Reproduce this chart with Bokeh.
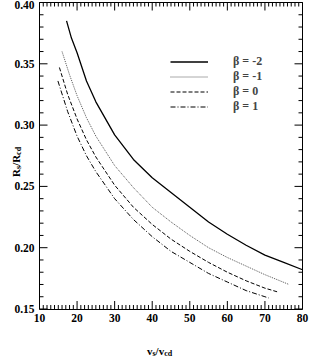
from bokeh.plotting import figure
from bokeh.models import (Range1d, LinearAxis, SingleIntervalTicker, PrintfTickFormatter,
                          Legend, LegendItem, Label)
from bokeh.embed import file_html
from bokeh.resources import INLINE
from math import pi

# ---- data ----
v_m2 = [17.2, 18.5, 20, 22.5, 25, 30, 35, 40, 45, 50, 55, 60, 65, 70, 75, 80]
R_m2 = [0.385, 0.371, 0.359, 0.336, 0.319, 0.292, 0.272, 0.257, 0.245, 0.233, 0.221, 0.211, 0.202, 0.194, 0.188, 0.182]

v_m1 = [16.0, 18, 20, 22.5, 25, 30, 35, 40, 45, 50, 55, 60, 65, 70, 76.4]
R_m1 = [0.360, 0.341, 0.324, 0.306, 0.291, 0.267, 0.249, 0.233, 0.221, 0.210, 0.200, 0.192, 0.185, 0.178, 0.170]

v_0 = [15.3, 17.5, 20, 22.5, 25, 30, 35, 40, 45, 50, 55, 60, 65, 70, 73.3]
R_0 = [0.347, 0.325, 0.305, 0.288, 0.274, 0.251, 0.233, 0.219, 0.207, 0.197, 0.188, 0.180, 0.173, 0.167, 0.164]

v_p1 = [14.9, 17.5, 20, 22.5, 25, 30, 35, 40, 45, 50, 55, 60, 65, 70, 71.0]
R_p1 = [0.336, 0.311, 0.291, 0.275, 0.262, 0.240, 0.223, 0.209, 0.197, 0.188, 0.179, 0.172, 0.165, 0.160, 0.159]

labels = ["\u03b2 = -2", "\u03b2 = -1", "\u03b2 = 0", "\u03b2 = 1"]

x_lo, x_hi = 10, 80
y_lo, y_hi = 0.15, 0.40
x_ticks_interval = 10
y_ticks_interval = 0.05
x_ticks_all = list(range(10, 81))
y_ticks_all = [round(0.15 + 0.01 * k, 2) for k in range(0, 26)]

FONT = "Liberation Serif"

# canvas geometry: the data box runs from px 39..302 (x) and 2..308.5 (y)
W, H = 309, 356
BX0, BX1, BY0, BY1 = 39.0, 302.0, 2.0, 308.5
sx = (BX1 - BX0) / (x_hi - x_lo)
sy = (BY1 - BY0) / (y_hi - y_lo)
x_range = Range1d(x_lo - BX0 / sx, x_hi + (W - BX1) / sx)
y_range = Range1d(y_lo - (H - BY1) / sy, y_hi + BY0 / sy)

p = figure(width=W, height=H, output_backend="svg", toolbar_location=None,
           x_range=x_range, y_range=y_range,
           min_border=0, min_border_left=0, min_border_right=0,
           min_border_top=0, min_border_bottom=0,
           x_axis_location=None, y_axis_location=None)
p.grid.visible = False
p.outline_line_color = None
p.background_fill_color = None
p.border_fill_color = None


def make_axis(loc, bounds, show_labels, interval, nminor, fmt):
    ax = LinearAxis(fixed_location=loc, bounds=bounds)
    ax.ticker = SingleIntervalTicker(interval=interval, num_minor_ticks=nminor)
    ax.formatter = PrintfTickFormatter(format=fmt)
    ax.major_tick_in = 0
    ax.major_tick_out = 0
    ax.minor_tick_in = 0
    ax.minor_tick_out = 0
    ax.axis_line_color = "black"
    ax.axis_line_width = 1
    ax.major_label_text_font = FONT
    ax.major_label_text_font_style = "bold"
    ax.major_label_text_color = "black"
    if show_labels:
        ax.major_label_text_font_size = "11.5px"
        ax.major_label_standoff = 5
    else:
        ax.major_label_text_font_size = "0px"
        ax.major_label_standoff = 0
    return ax


p.add_layout(make_axis(y_lo, (x_lo, x_hi), True, x_ticks_interval, 10, "%d"), "below")
p.add_layout(make_axis(y_hi, (x_lo, x_hi), False, x_ticks_interval, 10, "%d"), "above")
p.add_layout(make_axis(x_lo, (y_lo, y_hi), True, y_ticks_interval, 5, "%.2f"), "left")
p.add_layout(make_axis(x_hi, (y_lo, y_hi), False, y_ticks_interval, 5, "%.2f"), "right")

# inward tick marks (8 px major, 4 px minor) as segments through the scales
MAJ, MIN = 8.0, 4.0
xlen = [(MAJ if v % x_ticks_interval == 0 else MIN) / sy for v in x_ticks_all]
p.segment(x0=x_ticks_all, y0=[y_lo] * len(x_ticks_all), x1=x_ticks_all,
          y1=[y_lo + d for d in xlen], line_color="black", line_width=1)
p.segment(x0=x_ticks_all, y0=[y_hi] * len(x_ticks_all), x1=x_ticks_all,
          y1=[y_hi - d for d in xlen], line_color="black", line_width=1)
ylen = [(MAJ if round(v * 100) % 5 == 0 else MIN) / sx for v in y_ticks_all]
p.segment(x0=[x_lo] * len(y_ticks_all), y0=y_ticks_all, x1=[x_lo + d for d in ylen],
          y1=y_ticks_all, line_color="black", line_width=1)
p.segment(x0=[x_hi] * len(y_ticks_all), y0=y_ticks_all, x1=[x_hi - d for d in ylen],
          y1=y_ticks_all, line_color="black", line_width=1)

r1 = p.line(v_m2, R_m2, line_color="black", line_width=1.3)
r2 = p.line(v_m1, R_m1, line_color="#555555", line_width=1, line_dash="1 1")
r3 = p.line(v_0, R_0, line_color="black", line_width=1, line_dash="4 2")
r4 = p.line(v_p1, R_p1, line_color="black", line_width=1, line_dash="5 2 1 2")

legend = Legend(items=[LegendItem(label=labels[i], renderers=[r]) for i, r in enumerate([r1, r2, r3, r4])],
                location=(170, 242), orientation="vertical",
                glyph_width=38, glyph_height=15, label_height=15, spacing=0,
                label_standoff=25, padding=0, margin=0,
                border_line_color=None, background_fill_alpha=0,
                label_text_font=FONT, label_text_font_style="bold",
                label_text_font_size="12px", label_text_baseline="middle")
p.add_layout(legend, "center")

# ---- axis titles with subscripts ----
def piece(text, x, y, xo, yo, size, angle=0.0):
    p.add_layout(Label(x=x, y=y, x_offset=xo, y_offset=yo, text=text, angle=angle,
                       text_font=FONT, text_font_style="bold", text_font_size=size,
                       text_color="black", text_align="left", text_baseline="alphabetic"))

# x title: v_s/v_cd
xx, xy = 45, y_lo
piece("v", xx, xy, -24.0, -41.5, "11px")
piece("s", xx, xy, -18.5, -44, "8px")
piece("/v", xx, xy, -15.4, -41.5, "11px")
piece("cd", xx, xy, -6.8, -44, "8px")

# y title: R_s/R_cd (rotated)
yx, yy = x_lo, 0.27
piece("R", yx, yy, -24, -15.0, "11px", pi / 2)
piece("s", yx, yy, -21, -7.1, "8px", pi / 2)
piece("/R", yx, yy, -24, -4.0, "11px", pi / 2)
piece("cd", yx, yy, -21, 7.0, "8px", pi / 2)

open("out.html", "w").write(file_html(p, INLINE))
